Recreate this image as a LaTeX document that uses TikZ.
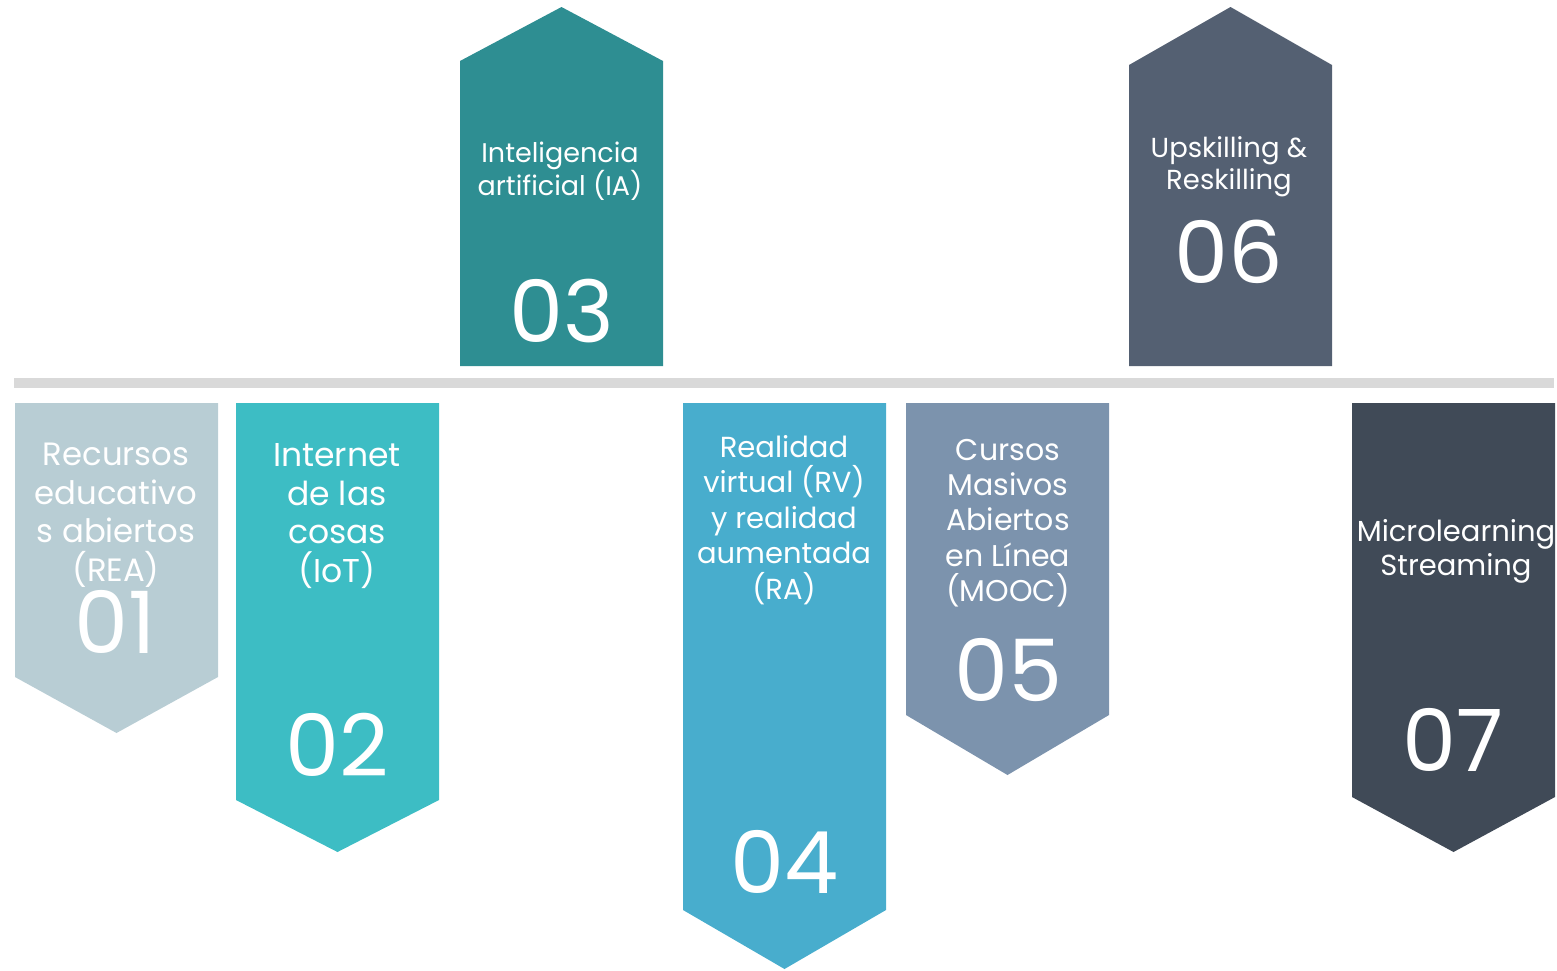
\documentclass[tikz,border=0pt]{standalone}
\usepackage{fontspec}
\setmainfont{Poppins}
\definecolor{cA}{HTML}{B8CDD4}
\definecolor{cB}{HTML}{3DBDC4}
\definecolor{cC}{HTML}{2E8E92}
\definecolor{cD}{HTML}{48ADCD}
\definecolor{cE}{HTML}{7C93AD}
\definecolor{cF}{HTML}{546072}
\definecolor{cG}{HTML}{404A57}
\definecolor{bar}{HTML}{D9D9D9}
\tikzset{
  lbl/.style={text=white, align=center, inner sep=0pt},
  num/.style={text=white, inner sep=0pt, font=\fontsize{86}{86}\selectfont},
}
\newcommand{\downtag}[5]{% x left, top, rect bottom, tip, colour
  \fill[#5] (#1,#2) -- (#1+203,#2) -- (#1+203,#3) -- (#1+101.5,#4) -- (#1,#3) -- cycle;}
\newcommand{\uptag}[5]{% x left, bottom, shoulder, tip, colour
  \fill[#5] (#1,#2) -- (#1+203,#2) -- (#1+203,#3) -- (#1+101.5,#4) -- (#1,#3) -- cycle;}
\begin{document}
\begin{tikzpicture}[x=1pt,y=-1pt]
\useasboundingbox (0,0) rectangle (1557,970);
\fill[bar] (14,378) rectangle (1554,388);
% bottom tags
\downtag{15}{403}{677}{733}{cA}
\downtag{236}{403}{800}{852}{cB}
\downtag{683}{403}{910}{969}{cD}
\downtag{906}{403}{715}{775}{cE}
\downtag{1352}{403}{797}{852}{cG}
% top tags
\uptag{460}{366}{61}{7}{cC}
\uptag{1129}{366}{65}{7}{cF}
% labels
\node[lbl, font=\fontsize{32.3}{38.5}\selectfont] (t1) at (116,515) {Recursos\\educativo\\s abiertos\\(REA)};
\node[num] (n1) at (115,622) {01};
\node[lbl, font=\fontsize{33}{38.5}\selectfont] (t2) at (337,516) {Internet\\de las\\cosas\\(IoT)};
\node[num] (n2) at (337,745) {02};
\node[lbl, font=\fontsize{27}{32}\selectfont] (t3) at (560,171) {Inteligencia\\artificial (IA)};
\node[num] (n3) at (562,311) {03};
\node[lbl, font=\fontsize{29}{35.5}\selectfont] (t4) at (784,520) {Realidad\\virtual (RV)\\y realidad\\aumentada\\(RA)};
\node[num] (n4) at (785,862) {04};
\node[lbl, font=\fontsize{30}{35.3}\selectfont] (t5) at (1008,523) {Cursos\\Masivos\\Abiertos\\en Línea\\(MOOC)};
\node[num] (n5) at (1008,670) {05};
\node[lbl, font=\fontsize{27.5}{32}\selectfont] (t6) at (1229,167) {Upskilling \&\\Reskilling};
\node[num] (n6) at (1229,252) {06};
\node[lbl, font=\fontsize{29}{34}\selectfont] (t7) at (1456,551) {Microlearning\\Streaming};
\node[num] (n7) at (1453,740) {07};
\end{tikzpicture}
\end{document}
